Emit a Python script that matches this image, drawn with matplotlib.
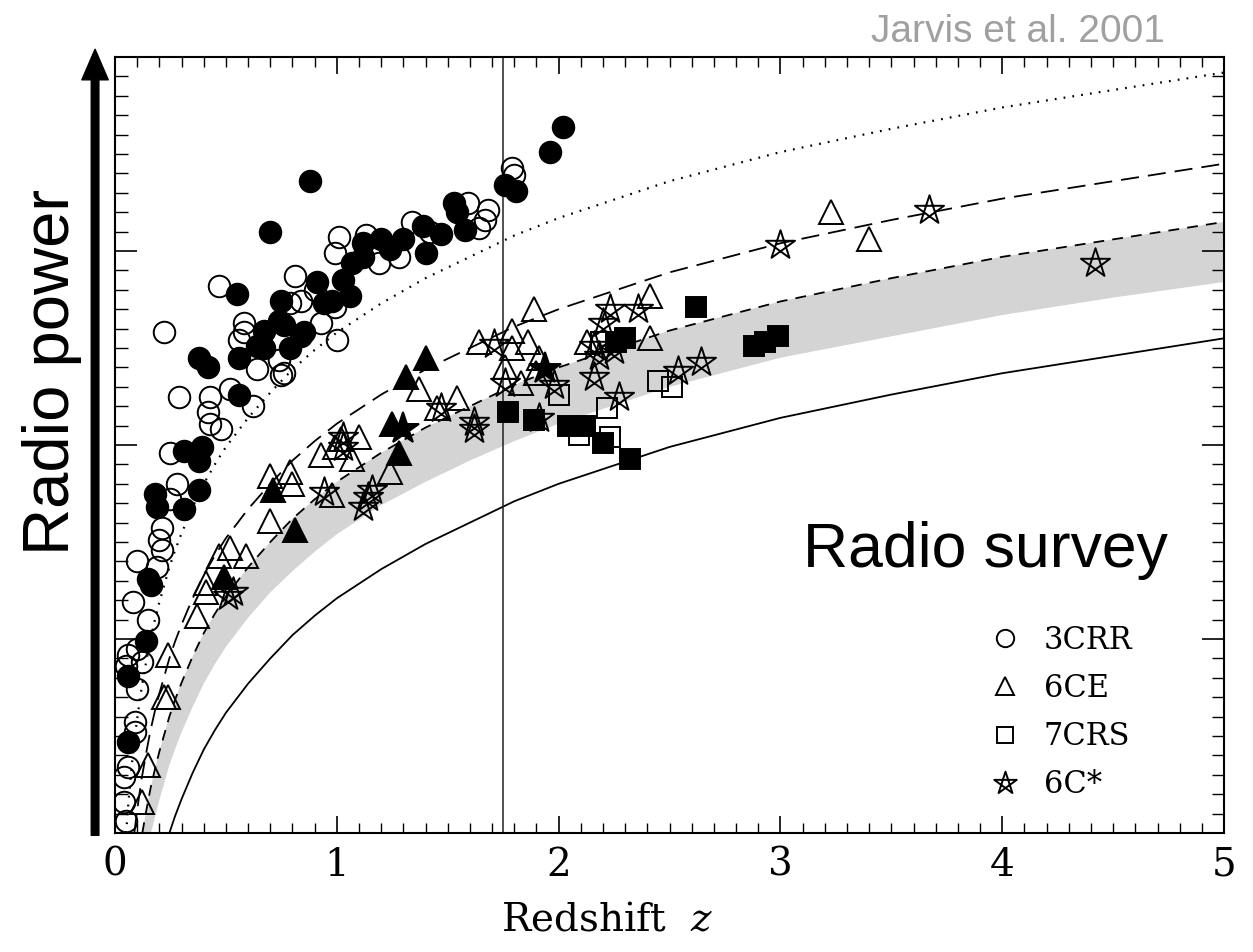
import matplotlib
matplotlib.use("Agg")
import matplotlib.pyplot as plt
from matplotlib.path import Path
from matplotlib.lines import Line2D
from matplotlib.ticker import MultipleLocator
import numpy as np

plt.rcParams['font.family'] = 'DejaVu Serif'
plt.rcParams['mathtext.fontset'] = 'dejavuserif'

# 3CRR (circles)
crr_fill_z = [2.02, 1.96, 0.88, 1.76, 1.81, 0.70, 1.53, 1.54, 1.58, 1.47, 1.39, 1.40, 1.30, 1.24, 1.20,
              1.12, 1.07, 1.03, 1.06, 0.98, 0.55, 0.91, 0.94, 0.85, 0.79, 0.75, 0.74, 0.67, 0.67, 0.64,
              0.56, 0.38, 0.42, 0.56, 0.76, 0.84, 0.31, 0.39, 0.38, 0.18, 0.19, 0.31, 0.38, 0.15, 0.16,
              0.14, 0.06, 0.06, 1.12]
crr_fill_p = [3.64, 3.51, 3.36, 3.34, 3.31, 3.10, 3.25, 3.20, 3.11, 3.09, 3.13, 2.99, 3.06, 3.01, 3.06,
              3.04, 2.94, 2.85, 2.77, 2.74, 2.78, 2.84, 2.73, 2.58, 2.50, 2.74, 2.64, 2.59, 2.50, 2.51,
              2.45, 2.45, 2.40, 2.26, 2.62, 2.56, 1.97, 1.99, 1.92, 1.75, 1.68, 1.67, 1.77, 1.31, 1.28,
              0.99, 0.81, 0.47, 2.97]
crr_open_z = [1.79, 1.80, 1.59, 1.68, 1.67, 1.64, 1.34, 1.28, 1.19, 1.13, 1.01, 0.99, 0.99, 1.00, 0.22,
              0.47, 0.81, 0.84, 0.93, 0.58, 0.58, 0.56, 0.64, 0.74, 0.76, 0.62, 0.52, 0.29, 0.43, 0.42,
              0.43, 0.48, 0.25, 0.28, 0.25, 0.21, 0.20, 0.21, 0.10, 0.19, 0.08, 0.15, 0.10, 0.06, 0.12,
              0.05, 0.10, 0.09, 0.09, 0.06, 0.04, 0.04, 0.05, 0.79, 0.75, 1.42, 0.90]
crr_open_p = [3.43, 3.39, 3.25, 3.21, 3.16, 3.12, 3.15, 2.97, 2.94, 3.08, 3.07, 2.99, 2.71, 2.54, 2.58,
              2.82, 2.87, 2.74, 2.63, 2.63, 2.58, 2.54, 2.39, 2.44, 2.37, 2.20, 2.29, 2.25, 2.25, 2.17,
              2.11, 2.08, 1.96, 1.80, 1.72, 1.57, 1.51, 1.46, 1.40, 1.37, 1.19, 1.10, 0.95, 0.92, 0.88,
              0.86, 0.74, 0.57, 0.52, 0.34, 0.29, 0.16, 0.06, 2.73, 2.36, 3.10, 2.80]

# 6CE (triangles)
ce_open_z = [1.89, 2.41, 2.41, 1.64, 1.79, 1.86, 2.13, 1.91, 1.76, 1.83, 1.37, 1.54, 1.45, 1.24, 3.23,
             3.40, 0.98, 1.10, 1.02, 1.07, 0.70, 0.79, 0.80, 0.70, 0.93, 0.47, 0.52, 0.59, 0.41, 0.41,
             0.37, 0.24, 0.22, 0.24, 0.15, 0.12, 1.90, 1.79, 0.99]
ce_open_p = [2.70, 2.77, 2.55, 2.53, 2.59, 2.53, 2.53, 2.45, 2.40, 2.32, 2.29, 2.24, 2.19, 1.86, 3.20,
             3.06, 1.74, 2.04, 2.03, 1.93, 1.84, 1.86, 1.80, 1.61, 1.95, 1.43, 1.47, 1.43, 1.29, 1.24,
             1.12, 0.92, 0.70, 0.70, 0.35, 0.16, 2.37, 2.50, 1.99]
ce_fill_z = [1.40, 1.31, 1.25, 1.28, 0.71, 0.81, 0.49]
ce_fill_p = [2.45, 2.35, 2.11, 1.96, 1.77, 1.56, 1.32]

# 7CRS (squares)
crs_fill_z = [2.62, 2.88, 2.93, 2.99, 2.30, 2.26, 1.77, 1.89, 2.04, 2.12, 2.20, 2.32]
crs_fill_p = [2.71, 2.51, 2.53, 2.56, 2.55, 2.53, 2.17, 2.13, 2.10, 2.10, 2.01, 1.93]
crs_open_z = [2.45, 2.51, 2.22, 2.00, 2.19, 2.09, 2.23]
crs_open_p = [2.33, 2.30, 2.19, 2.26, 2.53, 2.05, 2.04]

# 6C* (stars)
c6_open_z = [3.00, 3.67, 4.42, 2.23, 2.36, 2.20, 2.16, 2.18, 2.25, 2.16, 2.27, 2.54, 2.64, 1.71, 1.76,
             1.98, 1.91, 1.62, 1.62, 1.47, 1.14, 1.12, 1.16, 0.94, 1.03, 1.03, 0.51, 0.53]
c6_open_p = [3.03, 3.21, 2.94, 2.70, 2.70, 2.63, 2.51, 2.46, 2.49, 2.35, 2.25, 2.38, 2.43, 2.52, 2.32,
             2.31, 2.14, 2.12, 2.08, 2.19, 1.73, 1.68, 1.77, 1.76, 2.04, 1.99, 1.22, 1.24]
c6_fill_z = [1.30, 1.94]
c6_fill_p = [2.08, 2.39]

# flux-limit curves
solid_z = [0.245, 0.27, 0.30, 0.35, 0.40, 0.45, 0.50, 0.60, 0.70, 0.80, 0.90, 1.0, 1.2, 1.4, 1.6, 1.8,
           2.0, 2.5, 3.0, 3.5, 4.0, 4.5, 5.0]
solid_p = [0.00, 0.085, 0.175, 0.31, 0.43, 0.53, 0.62, 0.77, 0.90, 1.02, 1.12, 1.21, 1.36, 1.49, 1.60,
           1.71, 1.80, 1.99, 2.14, 2.26, 2.37, 2.46, 2.55]
band_lo_z = [0.162, 0.18, 0.20, 0.245, 0.27, 0.30, 0.35, 0.40, 0.45, 0.50, 0.60, 0.70, 0.80, 0.90, 1.0,
             1.2, 1.4, 1.6, 1.8, 2.0, 2.5, 3.0, 3.5, 4.0, 4.5, 5.0]
band_lo_p = [0.00, 0.08, 0.17, 0.35, 0.43, 0.52, 0.65, 0.77, 0.87, 0.96, 1.11, 1.24, 1.35, 1.45, 1.54,
             1.69, 1.81, 1.92, 2.02, 2.11, 2.30, 2.45, 2.56, 2.67, 2.76, 2.84]
dash_lo_z = [0.123, 0.14, 0.16, 0.18, 0.20, 0.245, 0.27, 0.30, 0.35, 0.40, 0.45, 0.50, 0.60, 0.70, 0.80,
             0.90, 1.0, 1.2, 1.4, 1.6, 1.8, 2.0, 2.5, 3.0, 3.5, 4.0, 4.5, 5.0]
dash_lo_p = [0.00, 0.11, 0.23, 0.33, 0.42, 0.60, 0.685, 0.775, 0.91, 1.03, 1.13, 1.22, 1.37, 1.50, 1.62,
             1.72, 1.81, 1.96, 2.09, 2.20, 2.31, 2.40, 2.59, 2.74, 2.86, 2.97, 3.06, 3.15]
dash_hi_z = [0.087, 0.10, 0.12, 0.14, 0.16, 0.18, 0.20, 0.245, 0.27, 0.30, 0.35, 0.40, 0.45, 0.50, 0.60,
             0.70, 0.80, 0.90, 1.0, 1.2, 1.4, 1.6, 1.8, 2.0, 2.5, 3.0, 3.5, 4.0, 4.5, 5.0]
dash_hi_p = [0.00, 0.12, 0.28, 0.41, 0.53, 0.63, 0.72, 0.90, 0.985, 1.075, 1.21, 1.33, 1.43, 1.52, 1.67,
             1.80, 1.92, 2.02, 2.11, 2.26, 2.39, 2.50, 2.61, 2.70, 2.89, 3.04, 3.16, 3.27, 3.36, 3.45]
dot_z = [0.05, 0.06, 0.07, 0.08, 0.09, 0.10, 0.12, 0.14, 0.16, 0.18, 0.20, 0.245, 0.27, 0.30, 0.35, 0.40,
         0.45, 0.50, 0.60, 0.70, 0.80, 0.90, 1.0, 1.2, 1.4, 1.6, 1.8, 2.0, 2.5, 3.0, 3.5, 4.0, 4.5, 5.0]
dot_p = [0.00, 0.15, 0.28, 0.40, 0.50, 0.59, 0.75, 0.88, 1.00, 1.10, 1.19, 1.37, 1.455, 1.545, 1.68, 1.80,
         1.90, 1.99, 2.14, 2.27, 2.39, 2.49, 2.58, 2.73, 2.86, 2.97, 3.08, 3.17, 3.36, 3.51, 3.63, 3.74,
         3.83, 3.92]
z_cut = 1.75

survey_names = ['3CRR', '6CE', '7CRS', '6C*']

# pentagram outline marker
ang = np.deg2rad(90 + 144 * np.arange(5))
star_verts = list(zip(np.cos(ang), np.sin(ang))) + [(0, 0)]
star_path = Path(star_verts, [Path.MOVETO] + [Path.LINETO] * 4 + [Path.CLOSEPOLY])

fig = plt.figure(figsize=(12.53, 9.52), dpi=100)
ax = fig.add_axes([0.0918, 0.125, 0.8851, 0.8151])

# grey band between the two flux limits
band_x = list(dash_lo_z) + list(band_lo_z[::-1])
band_y = list(dash_lo_p) + list(band_lo_p[::-1])
ax.fill(band_x, band_y, color='#d4d4d4', lw=0, zorder=1)

ax.plot(solid_z, solid_p, color='k', lw=1.3, zorder=2)
ax.plot(dash_lo_z, dash_lo_p, color='k', lw=1.3, dashes=(6, 4.5), zorder=2)
ax.plot(dash_hi_z, dash_hi_p, color='k', lw=1.3, dashes=(10, 5), zorder=2)
ax.plot(dot_z, dot_p, color='k', lw=1.6, dashes=(0.8, 3.2), zorder=2)
ax.axvline(z_cut, color='#222222', lw=1.1, zorder=2)

mk = dict(ls='none', mec='k', mew=1.4, zorder=3)
ax.plot(crr_open_z, crr_open_p, marker='o', ms=15.5, mfc='none', **mk)
ax.plot(crr_fill_z, crr_fill_p, marker='o', ms=15.5, mfc='k', **mk)
ax.plot(ce_open_z, ce_open_p, marker='^', ms=17, mfc='none', **mk)
ax.plot(ce_fill_z, ce_fill_p, marker='^', ms=17, mfc='k', **mk)
ax.plot(crs_open_z, crs_open_p, marker='s', ms=14, mfc='none', **mk)
ax.plot(crs_fill_z, crs_fill_p, marker='s', ms=14, mfc='k', **mk)
ax.plot(c6_open_z, c6_open_p, marker=star_path, ms=22, mfc='none', **mk)
ax.plot(c6_fill_z, c6_fill_p, marker='*', ms=24, mfc='k', **mk)

ax.set_xlim(0, 5)
ax.set_ylim(0, 4)
ax.xaxis.set_major_locator(MultipleLocator(1))
ax.xaxis.set_minor_locator(MultipleLocator(0.1))
ax.yaxis.set_major_locator(MultipleLocator(1))
ax.yaxis.set_minor_locator(MultipleLocator(0.1))
ax.tick_params(which='both', direction='in', top=True, right=True, labelleft=False)
ax.tick_params(axis='x', which='major', length=12, width=1.2, labelsize=28, pad=10)
ax.tick_params(axis='x', which='minor', length=7, width=1.0)
ax.tick_params(axis='y', which='major', length=16, width=1.2)
ax.tick_params(axis='y', which='minor', length=9, width=1.0)
for s in ax.spines.values():
    s.set_linewidth(1.5)

handles = [Line2D([], [], ls='none', marker='o', ms=12.5, mfc='none', mec='k', mew=1.4),
           Line2D([], [], ls='none', marker='^', ms=13.5, mfc='none', mec='k', mew=1.4),
           Line2D([], [], ls='none', marker='s', ms=12, mfc='none', mec='k', mew=1.4),
           Line2D([], [], ls='none', marker=star_path, ms=17, mfc='none', mec='k', mew=1.4)]
ax.legend(handles, survey_names, loc='upper left', bbox_to_anchor=(0.789, 0.268), frameon=False,
          fontsize=22, handlelength=1.0, handletextpad=0.75, labelspacing=0.56, borderpad=0,
          borderaxespad=0)

fig.text(607 / 1253, 1 - 920 / 952, 'Redshift  $z$', ha='center', va='center', fontsize=28)
fig.text(52 / 1253, 1 - 372 / 952, 'Radio power', rotation=90, ha='center', va='center',
         fontsize=47, family='Liberation Sans')
fig.text(985 / 1253, 1 - 567 / 952, 'Radio survey', ha='center', va='baseline',
         fontsize=45, family='Liberation Sans')
fig.text(1165 / 1253, 1 - 42 / 952, 'Jarvis et al. 2001', ha='right', va='baseline',
         fontsize=28, family='Liberation Sans', color='#a0a0a0')

ax.annotate('', xy=(-0.018, 1.01), xytext=(-0.018, -0.003), xycoords='axes fraction',
            arrowprops=dict(facecolor='black', edgecolor='black', width=5.5, headwidth=19,
                            headlength=22, shrink=0), annotation_clip=False)

fig.savefig('out.png', dpi=100)
